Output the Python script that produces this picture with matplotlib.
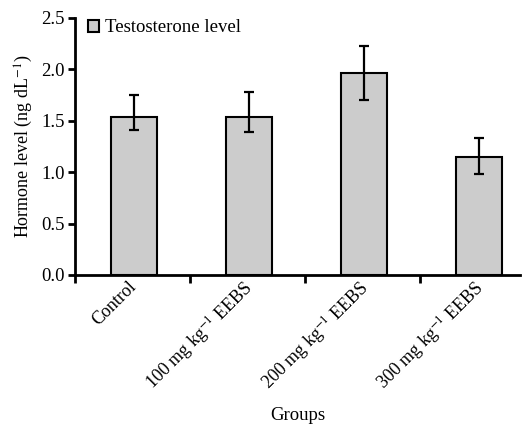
import numpy as np
import matplotlib
matplotlib.use("Agg")
import matplotlib.pyplot as plt

# ==========================================
# DATA
# ==========================================

groups = ["Control",
          "100 mg kg$^{-1}$ EEBS",
          "200 mg kg$^{-1}$ EEBS",
          "300 mg kg$^{-1}$ EEBS"]
testosterone = [1.54, 1.54, 1.96, 1.15]
err_low = [0.13, 0.15, 0.26, 0.17]
err_high = [0.21, 0.24, 0.27, 0.18]

plt.rcParams['font.family'] = ['Liberation Serif', 'DejaVu Serif']
plt.rcParams['mathtext.fontset'] = 'stix'

FS = 13.5

fig = plt.figure(figsize=(5.27, 4.25), dpi=100)
ax = fig.add_axes([0.142, 0.353, 0.845, 0.605])

x = np.arange(len(groups))
ax.bar(x + 0.01, testosterone, width=0.4, color='#cccccc', edgecolor='black',
       linewidth=1.5, label='Testosterone level',
       yerr=[err_low, err_high], capsize=3.5,
       error_kw=dict(elinewidth=1.6, capthick=1.6, ecolor='black'))

ax.set_xlim(-0.5, 3.37)
ax.set_ylim(0, 2.5)
ax.set_yticks(np.arange(0, 2.51, 0.5))
ax.set_yticklabels([f"{v:.1f}" for v in np.arange(0, 2.51, 0.5)], fontsize=FS)

# category labels, ticks sit between groups
ax.set_xticks(x - 0.04)
ax.set_xticklabels(groups, rotation=45, ha='right', rotation_mode='anchor', fontsize=13)
ax.tick_params(axis='x', which='major', length=0, pad=2)
ax.set_xticks([-0.5, 0.5, 1.5, 2.5], minor=True)
ax.tick_params(axis='x', which='minor', length=6, width=2, direction='out')
ax.tick_params(axis='y', length=5, width=2, direction='out', pad=2)

for s in ['top', 'right']:
    ax.spines[s].set_visible(False)
for s in ['left', 'bottom']:
    ax.spines[s].set_linewidth(2)

ax.set_ylabel("Hormone level (ng dL$^{-1}$)", fontsize=13, labelpad=5)
ax.set_xlabel("Groups", fontsize=FS, labelpad=9)

ax.legend(loc='upper left', bbox_to_anchor=(0.0, 1.045), frameon=False, fontsize=FS,
          handlelength=0.6, handleheight=0.6, handletextpad=0.3, borderaxespad=0.3)

fig.savefig("out.png", dpi=100)
